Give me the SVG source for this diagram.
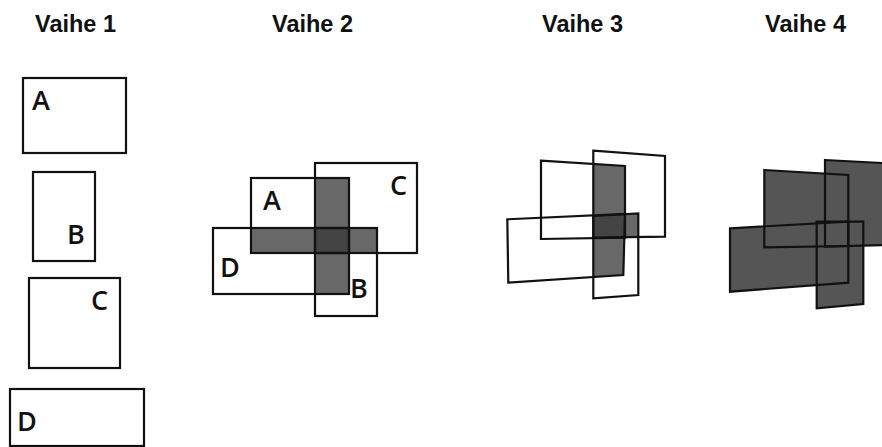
<svg xmlns="http://www.w3.org/2000/svg" width="882" height="447" viewBox="0 0 882 447">
<style>
.title{font-family:"Liberation Sans",Arial,sans-serif;font-weight:bold;font-size:23.5px;fill:#111}
.lbl{font-family:"Open Sans","DejaVu Sans",sans-serif;font-size:27px;font-weight:600;fill:#111}
.box{fill:none;stroke:#111;stroke-width:2.2;stroke-linejoin:miter}
.g1{fill:#686868}
.g2{fill:#444444}
.g4{fill:#555555}
</style>
<rect width="882" height="447" fill="#ffffff"/>
<g id="titles">
<text class="title" x="35" y="32">Vaihe 1</text>
<text class="title" x="272" y="32">Vaihe 2</text>
<text class="title" x="542" y="32">Vaihe 3</text>
<text class="title" x="765" y="32">Vaihe 4</text>
</g>
<g id="stage1">
<g id="s1-A"><rect class="box" x="23" y="78" width="103" height="75"/><text class="lbl" x="32" y="110">A</text></g>
<g id="s1-B"><rect class="box" x="33" y="172" width="62" height="89"/><text class="lbl" x="67" y="244">B</text></g>
<g id="s1-C"><rect class="box" x="29" y="278" width="91" height="90"/><text class="lbl" x="91" y="310">C</text></g>
<g id="s1-D"><rect class="box" x="10" y="389" width="134" height="57"/><text class="lbl" x="17" y="431">D</text></g>
</g>
<g id="stage2">
<g id="s2-overlap">
<rect class="g1" x="315" y="178" width="34" height="116"/>
<rect class="g1" x="251" y="228" width="126" height="25"/>
<rect class="g2" x="315" y="228" width="34" height="25"/>
</g>
<g id="s2-A"><rect class="box" x="251" y="178" width="98" height="75"/><text class="lbl" x="263" y="210">A</text></g>
<g id="s2-C"><rect class="box" x="315" y="163" width="102" height="90"/><text class="lbl" x="390" y="195">C</text></g>
<g id="s2-D"><rect class="box" x="213" y="228" width="136" height="66"/><text class="lbl" x="220" y="277">D</text></g>
<g id="s2-B"><rect class="box" x="315" y="228" width="62" height="88"/><text class="lbl" x="350" y="298">B</text></g>
</g>
<g id="stage3">
<g id="s3-overlap">
<polygon class="g1" points="593.3,164.3 625,166 624,275 593.3,276.5"/>
<polygon class="g1" points="625,214 638.3,213.3 638.3,236.7 625,237.5"/>
<polygon class="g2" points="593.3,215.5 625,214 625,237.6 593.3,237.8"/>
</g>
<g id="s3-A"><polygon class="box" points="541,160.7 625,166 625,237.7 541,239"/></g>
<g id="s3-C"><polygon class="box" points="593.3,150.7 665,156 665,236.7 593.3,237.7"/></g>
<g id="s3-D"><polygon class="box" points="507.3,219.3 625,214 623.3,275 508.3,282.7"/></g>
<g id="s3-B"><polygon class="box" points="593.3,216 638.3,213.3 638.3,295 593.3,298.3"/></g>
</g>
<g id="stage4">
<g id="s4-fills">
<polygon class="g4" points="764.3,170 848.3,175 848.3,246 764.3,247.3"/>
<polygon class="g4" points="825,160 892,163.5 892,244.8 825,246.7"/>
<polygon class="g4" points="730,228.3 848.3,221.7 848.3,282.7 730,291.7"/>
<polygon class="g4" points="816.7,221.7 863.3,221.7 863.3,304 816.7,308.3"/>
</g>
<g id="s4-A"><polygon class="box" points="764.3,170 848.3,175 848.3,246 764.3,247.3"/></g>
<g id="s4-C"><polygon class="box" points="825,160 892,163.5 892,244.8 825,246.7"/></g>
<g id="s4-D"><polygon class="box" points="730,228.3 848.3,221.7 848.3,282.7 730,291.7"/></g>
<g id="s4-B"><polygon class="box" points="816.7,221.7 863.3,221.7 863.3,304 816.7,308.3"/></g>
</g>
</svg>
